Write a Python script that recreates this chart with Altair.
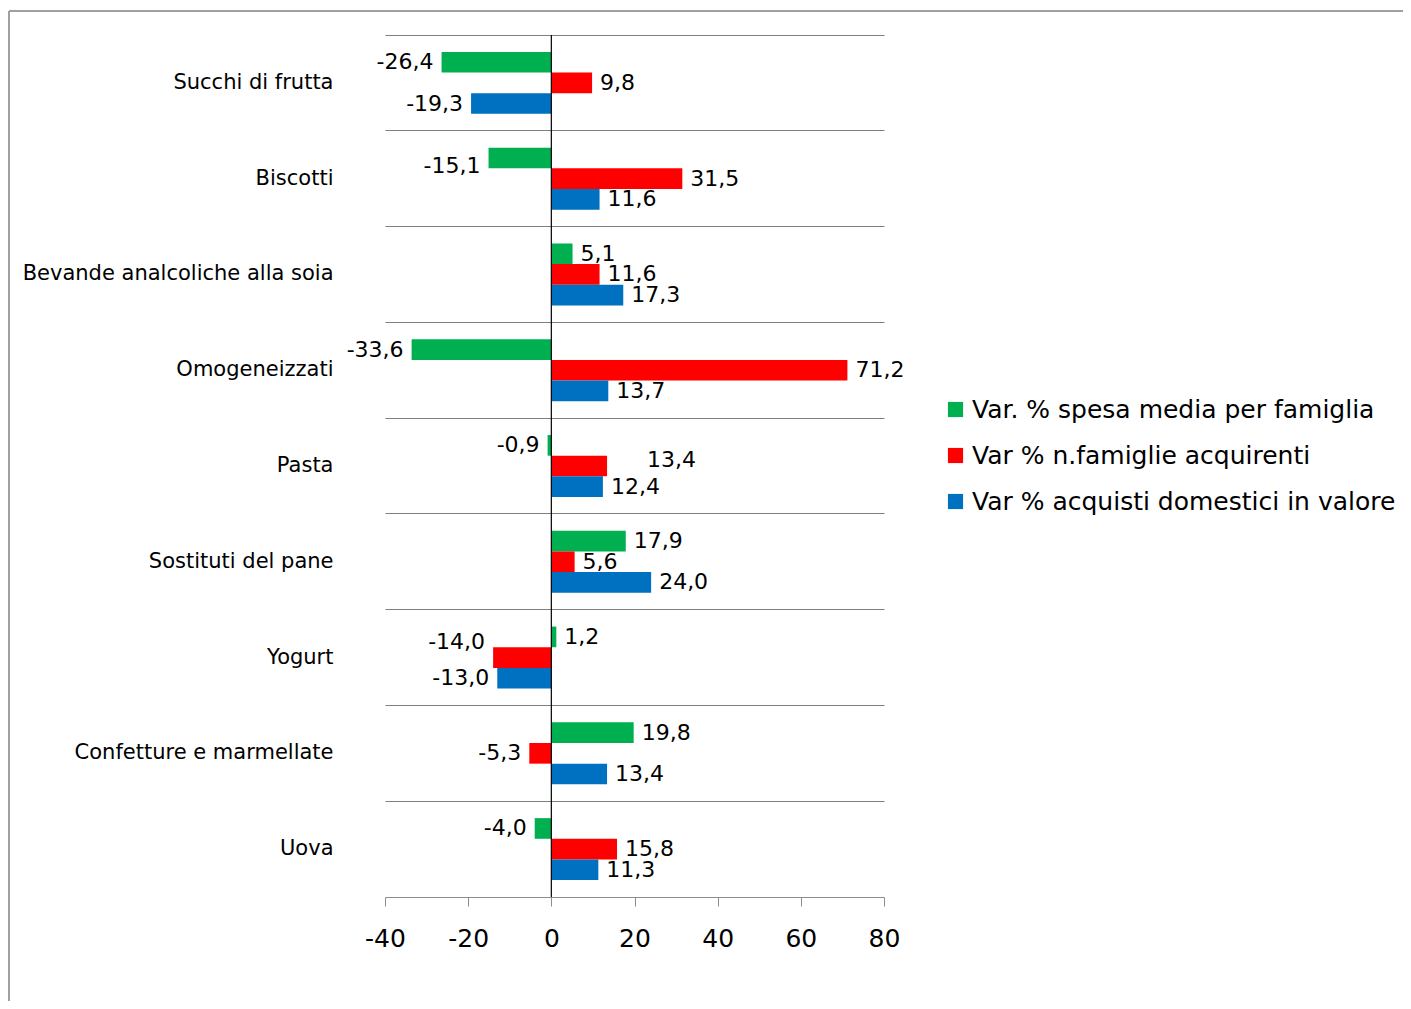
import altair as alt
import pandas as pd

categories = ["Succhi di frutta", "Biscotti", "Bevande analcoliche alla soia", "Omogeneizzati",
              "Pasta", "Sostituti del pane", "Yogurt", "Confetture e marmellate", "Uova"]
series_names = ["Var. % spesa media per famiglia", "Var % n.famiglie acquirenti",
                "Var % acquisti domestici in valore"]
spesa = [-26.4, -15.1, 5.1, -33.6, -0.9, 17.9, 1.2, 19.8, -4.0]
famiglie = [9.8, 31.5, 11.6, 71.2, 13.4, 5.6, -14.0, -5.3, 15.8]
acquisti = [-19.3, 11.6, 17.3, 13.7, 12.4, 24.0, -13.0, 13.4, 11.3]
x_ticks = [-40, -20, 0, 20, 40, 60, 80]
colors = ["#00B050", "#FF0000", "#0070C0"]

# labels that were hand-moved in the original (category, series index) -> (dx, dy) nudge
label_nudges = {("Biscotti", 0): (0, 8), ("Pasta", 1): (32, -6), ("Yogurt", 1): (0, -16)}

rows = []
for si, (name, vals) in enumerate(zip(series_names, [spesa, famiglie, acquisti])):
    for c, v in zip(categories, vals):
        ndx, ndy = label_nudges.get((c, si), (0, 0))
        rows.append({"cat": c, "series": name, "value": v,
                     "label": f"{v:.1f}".replace(".", ","),
                     "nudge": f"{ndx}_{ndy}"})
df = pd.DataFrame(rows)

FONT = "DejaVu Sans"
W, H = 499, 862

y_enc = alt.Y("cat:N", sort=categories, title=None,
              scale=alt.Scale(paddingInner=0, paddingOuter=0),
              axis=alt.Axis(bandPosition=0, grid=True, gridColor="#7f7f7f", gridWidth=1.2,
                            domain=False, ticks=False, labelPadding=52, labelLimit=600,
                            labelFont=FONT, labelFontSize=21, labelColor="#000000"))
yoff = alt.YOffset("series:N", sort=series_names,
                   scale=alt.Scale(paddingInner=0, paddingOuter=0.82))
y_plain = alt.Y("cat:N", sort=categories)

base = alt.Chart(df)

bars = base.mark_bar().encode(
    x=alt.X("value:Q", title=None,
            scale=alt.Scale(domain=[-40, 80], nice=False, zero=False),
            axis=alt.Axis(values=x_ticks, grid=False, domainColor="#8c8c8c", tickColor="#8c8c8c",
                          tickSize=9, labelFont=FONT, labelFontSize=25, labelColor="#000000",
                          labelPadding=20, domainWidth=1.2, labelFlush=False,
                          labelExpr="'' + datum.value")),
    y=y_enc,
    yOffset=yoff,
    color=alt.Color("series:N", sort=series_names,
                    scale=alt.Scale(domain=series_names, range=colors),
                    legend=alt.Legend(title=None, orient="none", legendX=558, legendY=362,
                                      symbolType="square", symbolSize=230, symbolStrokeWidth=0,
                                      labelFont=FONT, labelFontSize=25, labelColor="#000000",
                                      rowPadding=20, labelLimit=700, symbolOffset=0)),
)

label_layers = []
for key in sorted(df["nudge"].unique()):
    ndx, ndy = (int(t) for t in key.split("_"))
    sub = base.transform_filter(alt.datum.nudge == key)
    label_layers.append(sub.transform_filter("datum.value >= 0").mark_text(
        align="left", baseline="middle", dx=8 + ndx, dy=ndy, font=FONT, fontSize=22, color="#000000"
    ).encode(x="value:Q", y=y_plain, yOffset=yoff, text="label:N"))
    label_layers.append(sub.transform_filter("datum.value < 0").mark_text(
        align="right", baseline="middle", dx=-8 + ndx, dy=ndy, font=FONT, fontSize=22, color="#000000"
    ).encode(x="value:Q", y=y_plain, yOffset=yoff, text="label:N"))

zero = alt.Chart(pd.DataFrame({"z": [0]})).mark_rule(color="#000000", strokeWidth=1.2).encode(x="z:Q")

frame_top = alt.Chart(pd.DataFrame({"a": [0]})).mark_rule(color="#a0a0a0", strokeWidth=2).encode(
    x=alt.value(-376), x2=alt.value(1100), y=alt.value(-24))
frame_left = alt.Chart(pd.DataFrame({"a": [0]})).mark_rule(color="#a0a0a0", strokeWidth=2).encode(
    x=alt.value(-376), y=alt.value(-24), y2=alt.value(1100))

chart = alt.layer(frame_top, frame_left, bars, zero, *label_layers).properties(
    width=W, height=H,
    autosize=alt.AutoSizeParams(type="none"),
    padding={"left": 377, "top": 27, "right": 519, "bottom": 104},
).configure_view(stroke=None)

chart.save("out.html", embed_options={"renderer": "svg", "actions": False})
